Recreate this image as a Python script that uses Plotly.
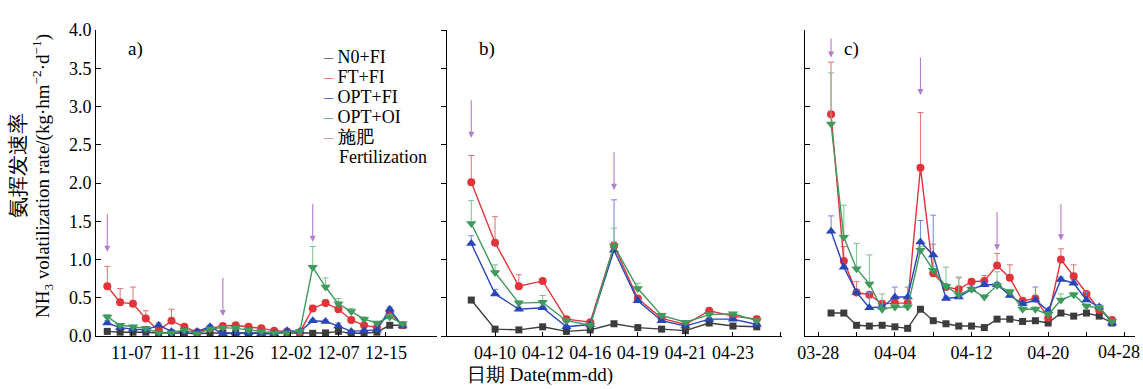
import plotly.graph_objects as go

# ---------------- data ----------------
series_names = ["N0+FI", "FT+FI", "OPT+FI", "OPT+OI"]

# panel a)
a_n0 = [0.06, 0.05, 0.05, 0.05, 0.04, 0.04, 0.04, 0.03, 0.04, 0.04, 0.04, 0.04, 0.04, 0.04, 0.04, 0.04, 0.035, 0.04, 0.06, 0.035, 0.035, 0.05, 0.14, 0.14]
a_ft = [0.65, 0.44, 0.42, 0.23, 0.07, 0.20, 0.12, 0.05, 0.10, 0.13, 0.14, 0.12, 0.10, 0.07, 0.06, 0.05, 0.36, 0.43, 0.35, 0.21, 0.14, 0.11, 0.30, 0.14]
a_optfi = [0.17, 0.11, 0.09, 0.08, 0.14, 0.06, 0.06, 0.06, 0.12, 0.03, 0.04, 0.04, 0.03, 0.03, 0.07, 0.06, 0.20, 0.19, 0.13, 0.06, 0.07, 0.08, 0.35, 0.13]
a_optoi = [0.25, 0.14, 0.12, 0.10, 0.04, 0.04, 0.08, 0.03, 0.09, 0.11, 0.10, 0.08, 0.06, 0.04, 0.04, 0.06, 0.90, 0.64, 0.42, 0.32, 0.22, 0.17, 0.25, 0.16]
a_n0_err = [0.01] * 24
a_ft_err = [0.26, 0.18, 0.22, 0.10, 0.02, 0.15, 0.03, 0.02, 0.02, 0.02, 0.02, 0.02, 0.02, 0.02, 0.02, 0.02, 0.04, 0.04, 0.05, 0.03, 0.02, 0.02, 0.03, 0.02]
a_optfi_err = [0.03, 0.02, 0.02, 0.02, 0.03, 0.01, 0.01, 0.01, 0.02, 0.01, 0.01, 0.01, 0.01, 0.01, 0.01, 0.01, 0.02, 0.02, 0.04, 0.01, 0.01, 0.01, 0.03, 0.02]
a_optoi_err = [0.03, 0.02, 0.02, 0.02, 0.01, 0.01, 0.01, 0.01, 0.01, 0.01, 0.01, 0.01, 0.01, 0.01, 0.01, 0.01, 0.27, 0.12, 0.07, 0.04, 0.03, 0.02, 0.03, 0.02]
a_tick_pos = [1.9, 5.7, 9.8, 14.3, 18.0, 21.7]
a_tick_text = ["11-07", "11-11", "11-26", "12-02", "12-07", "12-15"]
a_fert_idx = [0, 9, 16]
a_fert_top = [1.61, 0.78, 1.75]
a_fert_tip = [1.10, 0.26, 1.23]

# panel b)
b_n0 = [0.47, 0.09, 0.08, 0.12, 0.06, 0.08, 0.16, 0.11, 0.09, 0.07, 0.17, 0.13, 0.12]
b_ft = [2.01, 1.22, 0.65, 0.72, 0.22, 0.18, 1.18, 0.49, 0.23, 0.15, 0.33, 0.26, 0.22]
b_optfi = [1.21, 0.55, 0.35, 0.37, 0.12, 0.15, 1.12, 0.46, 0.20, 0.13, 0.22, 0.22, 0.15]
b_optoi = [1.47, 0.83, 0.43, 0.44, 0.20, 0.14, 1.18, 0.62, 0.27, 0.18, 0.28, 0.29, 0.20]
b_n0_err = [0.03, 0.01, 0.01, 0.01, 0.01, 0.01, 0.01, 0.01, 0.01, 0.01, 0.01, 0.01, 0.01]
b_ft_err = [0.35, 0.34, 0.15, 0.02, 0.03, 0.02, 0.05, 0.02, 0.02, 0.02, 0.02, 0.02, 0.04]
b_optfi_err = [0.10, 0.06, 0.03, 0.02, 0.02, 0.02, 0.66, 0.02, 0.02, 0.02, 0.02, 0.02, 0.02]
b_optoi_err = [0.30, 0.10, 0.03, 0.09, 0.02, 0.02, 0.23, 0.07, 0.02, 0.02, 0.02, 0.02, 0.02]
b_tick_pos = [1, 3, 5, 7, 9, 11, 13]
b_tick_text = ["04-10", "04-12", "04-16", "04-19", "04-21", "04-23", ""]
b_fert_idx = [0, 6]
b_fert_top = [3.10, 2.42]
b_fert_tip = [2.59, 1.91]

# panel c)
c_n0 = [0.30, 0.30, 0.14, 0.13, 0.14, 0.12, 0.10, 0.35, 0.20, 0.16, 0.13, 0.13, 0.11, 0.22, 0.22, 0.19, 0.20, 0.17, 0.30, 0.26, 0.30, 0.26, 0.17]
c_ft = [2.90, 0.98, 0.57, 0.54, 0.42, 0.43, 0.43, 2.20, 0.82, 0.64, 0.61, 0.71, 0.72, 0.92, 0.76, 0.46, 0.49, 0.24, 1.00, 0.78, 0.55, 0.34, 0.21]
c_optfi = [1.37, 0.90, 0.57, 0.37, 0.38, 0.51, 0.51, 1.23, 1.06, 0.49, 0.51, 0.61, 0.67, 0.67, 0.53, 0.42, 0.47, 0.33, 0.74, 0.69, 0.47, 0.38, 0.17]
c_optoi = [2.77, 1.29, 0.88, 0.68, 0.35, 0.38, 0.38, 1.12, 0.86, 0.65, 0.54, 0.61, 0.51, 0.66, 0.58, 0.35, 0.35, 0.28, 0.47, 0.54, 0.39, 0.37, 0.19]
c_n0_err = [0.01] * 23
c_ft_err = [0.68, 0.19, 0.14, 0.02, 0.03, 0.05, 0.05, 0.72, 0.38, 0.03, 0.16, 0.03, 0.07, 0.16, 0.17, 0.03, 0.03, 0.02, 0.14, 0.15, 0.03, 0.03, 0.02]
c_optfi_err = [0.20, 0.03, 0.03, 0.20, 0.03, 0.13, 0.13, 0.28, 0.52, 0.03, 0.03, 0.03, 0.03, 0.03, 0.03, 0.03, 0.17, 0.03, 0.03, 0.03, 0.11, 0.03, 0.02]
c_optoi_err = [0.67, 0.42, 0.33, 0.38, 0.20, 0.03, 0.03, 0.05, 0.05, 0.25, 0.22, 0.03, 0.03, 0.18, 0.03, 0.03, 0.03, 0.03, 0.08, 0.03, 0.03, 0.03, 0.02]
c_tick_pos = [-1, 2, 5, 8, 11, 14, 17, 20, 23]
c_tick_text = ["03-28", "", "04-04", "", "04-12", "", "04-20", "", "04-28"]
c_fert_idx = [0, 7, 13, 18]
c_fert_top = [3.91, 3.66, 1.64, 1.75]
c_fert_tip = [3.64, 3.15, 1.12, 1.25]

y_tick_vals = [0.0, 0.5, 1.0, 1.5, 2.0, 2.5, 3.0, 3.5, 4.0]

# ---------------- styles ----------------
line_colors = ["#3c3c3c", "#e0343a", "#2846b8", "#3f9a5c"]
err_colors = ["#7a7a7a", "#e87070", "#6f86d6", "#7cc091"]
symbols = ["square", "circle", "triangle-up", "triangle-down"]
msizes = [7, 8, 9, 9]
legend_dash = ["#777777", "#ee8080", "#5a74c8", "#6fb487", "#c79ad6"]
fert_color = "#b57cc8"
FONT = "Liberation Serif"

fig = go.Figure()

panels = [
    ("x", "y", [a_n0, a_ft, a_optfi, a_optoi], [a_n0_err, a_ft_err, a_optfi_err, a_optoi_err]),
    ("x2", "y2", [b_n0, b_ft, b_optfi, b_optoi], [b_n0_err, b_ft_err, b_optfi_err, b_optoi_err]),
    ("x3", "y3", [c_n0, c_ft, c_optfi, c_optoi], [c_n0_err, c_ft_err, c_optfi_err, c_optoi_err]),
]

for xa, ya, vals, errs in panels:
    for k in range(4):
        n = len(vals[k])
        fig.add_trace(go.Scatter(
            x=list(range(n)), y=vals[k], xaxis=xa, yaxis=ya,
            mode="lines+markers", name=series_names[k], showlegend=False,
            line=dict(color=line_colors[k], width=1.4),
            marker=dict(symbol=symbols[k], size=msizes[k], color=line_colors[k],
                        line=dict(width=0)),
            error_y=dict(type="data", symmetric=False, array=errs[k],
                         arrayminus=[0] * n, color=err_colors[k],
                         thickness=1, width=3),
        ))

W = 1143
L, R, T, B = 96, 8, 30, 53
pw = W - L - R


def dom(p0, p1):
    return [(p0 - L) / pw, (p1 - L) / pw]


tickfont = dict(family=FONT, size=18, color="black")
common_y = dict(range=[0, 4], tickvals=y_tick_vals, showline=True, linecolor="black",
                linewidth=1, showgrid=False, zeroline=False, ticklen=5,
                tickcolor="black", tickfont=tickfont, automargin=False)
common_x = dict(showline=True, linecolor="black", linewidth=1, showgrid=False,
                zeroline=False, ticks="inside", ticklen=4, tickcolor="black",
                tickfont=tickfont, tickangle=0, automargin=False,
                ticklabeloverflow="allow")

# the last label of panel c sits against the right edge, so it is written as
# an annotation shifted left (as in the reference) instead of an axis label
c_axis_text = c_tick_text[:-1] + [""]

fig.update_layout(
    width=W, height=389,
    margin=dict(l=L, r=R, t=T, b=B, autoexpand=False),
    paper_bgcolor="white", plot_bgcolor="white",
    font=dict(family=FONT, size=17, color="black"),
    showlegend=False,
    xaxis=dict(domain=dom(96, 437), range=[-0.88, 25.68], tickvals=a_tick_pos,
               ticktext=a_tick_text, **common_x),
    yaxis=dict(anchor="x", ticks="inside", tickformat=".1f", showticklabels=True, **common_y),
    xaxis2=dict(domain=dom(447, 782), range=[-1.02, 13.06], tickvals=b_tick_pos,
                ticktext=b_tick_text, anchor="y2", **common_x),
    yaxis2=dict(anchor="x2", ticks="outside", showticklabels=False, **common_y),
    xaxis3=dict(domain=dom(805, 1135), range=[-2.04, 23.8], tickvals=c_tick_pos,
                ticktext=c_axis_text, anchor="y3", **common_x),
    yaxis3=dict(anchor="x3", ticks="inside", showticklabels=False, **common_y),
)

fig.add_annotation(x=c_tick_pos[-1], y=(336 - 352) / 306, xref="x3", yref="paper",
                   text=c_tick_text[-1], showarrow=False, xshift=-6,
                   font=tickfont, xanchor="center", yanchor="middle")

# fertilization arrows
for xa, ya, idxs, tops, tips in [("x", "y", a_fert_idx, a_fert_top, a_fert_tip),
                                 ("x2", "y2", b_fert_idx, b_fert_top, b_fert_tip),
                                 ("x3", "y3", c_fert_idx, c_fert_top, c_fert_tip)]:
    for i, t0, t1 in zip(idxs, tops, tips):
        fig.add_annotation(x=i, y=t1, ax=i, ay=t0, xref=xa, yref=ya, axref=xa, ayref=ya,
                           text="", showarrow=True, arrowhead=2, arrowsize=1.1,
                           arrowwidth=1.1, arrowcolor=fert_color)

# panel labels
for txt, px in [("a)", 135), ("b)", 487), ("c)", 851)]:
    fig.add_annotation(x=(px - L) / pw, y=(336 - 49) / 306, xref="paper", yref="paper",
                       text=txt, showarrow=False, font=dict(family=FONT, size=19, color="black"),
                       xanchor="center", yanchor="middle")

# legend (drawn as text)
legend_rows = ["N0+FI", "FT+FI", "OPT+FI", "OPT+OI", "施肥"]
legend_y = [56.7, 76.7, 97.3, 117.3, 137.3]
for txt, col, py in zip(legend_rows, legend_dash, legend_y):
    fig.add_annotation(x=(321 - L) / pw, y=(336 - py) / 306, xref="paper", yref="paper",
                       text=f"<span style='color:{col}'>–</span> {txt}", showarrow=False,
                       font=dict(family=FONT, size=18, color="black"),
                       xanchor="left", yanchor="middle")
fig.add_annotation(x=(337 - L) / pw, y=(336 - 156.7) / 306, xref="paper", yref="paper",
                   text="Fertilization", showarrow=False,
                   font=dict(family=FONT, size=18, color="black"),
                   xanchor="left", yanchor="middle")

# axis titles
fig.add_annotation(x=(18 - L) / pw, y=(336 - 166) / 306, xref="paper", yref="paper",
                   text="氨挥发速率", textangle=-90, showarrow=False,
                   font=dict(family=FONT, size=21, color="black"),
                   xanchor="center", yanchor="middle")
fig.add_annotation(x=(42 - L) / pw, y=(336 - 176) / 306, xref="paper", yref="paper",
                   text="NH<sub>3</sub> volatilization rate/(kg·hm<sup>−2</sup>·d<sup>−1</sup>)",
                   textangle=-90, showarrow=False, font=dict(family=FONT, size=19, color="black"),
                   xanchor="center", yanchor="middle")
fig.add_annotation(x=(540 - L) / pw, y=(336 - 388) / 306, xref="paper", yref="paper",
                   text="日期 Date(mm-dd)", showarrow=False,
                   font=dict(family=FONT, size=19, color="black"),
                   xanchor="center", yanchor="bottom")

fig.write_html("out.html", config={"displayModeBar": False},
               post_script="document.body.style.margin='0px';document.body.style.padding='0px';")
